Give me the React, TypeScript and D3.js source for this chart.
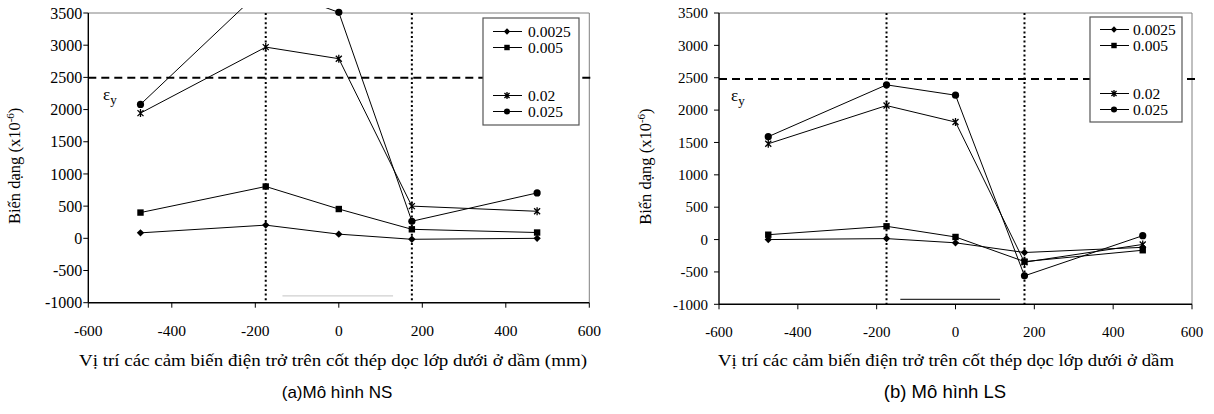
import React from "react";
import * as d3 from "d3";

// sensor positions along the beam (mm)
const positions = [-475, -175, 0, 175, 475];
const seriesLabels = ["0.0025", "0.005", "0.02", "0.025"];
const markerKinds = ["diamond", "square", "asterisk", "circle"];
const legendRows = [0, 1, 4, 5]; // rows 2,3 are empty in the original legend
const xTicks = [-600, -400, -200, 0, 200, 400, 600];
const yTicks = [-1000, -500, 0, 500, 1000, 1500, 2000, 2500, 3000, 3500];
const columnFaces = [-175, 175];

// (a) NS model
const ns0025 = [85, 205, 65, -15, 0];
const ns005 = [400, 805, 455, 140, 90];
const ns02 = [1945, 2970, 2790, 500, 420];
const ns025 = [2080, 3920, 3510, 265, 705];
const nsYield = 2495;

// (b) LS model
const ls0025 = [0, 15, -50, -200, -120];
const ls005 = [75, 205, 40, -340, -165];
const ls02 = [1480, 2070, 1815, -350, -75];
const ls025 = [1590, 2390, 2230, -560, 60];
const lsYield = 2480;

const serif = "Liberation Serif, serif";
const sans = "Liberation Sans, sans-serif";

function Marker({ kind, x, y, s = 1 }) {
  if (kind === "diamond") {
    return <rect x={-2.6 * s} y={-2.6 * s} width={5.2 * s} height={5.2 * s} fill="#000"
      transform={`translate(${x},${y}) rotate(45)`} />;
  }
  if (kind === "square") {
    return <rect x={x - 3.2 * s} y={y - 3.2 * s} width={6.4 * s} height={6.4 * s} fill="#000" />;
  }
  if (kind === "asterisk") {
    const r = 4 * s, d = 3 * s;
    return <path d={`M${x},${y - r}V${y + r}M${x - d},${y - d}L${x + d},${y + d}M${x - d},${y + d}L${x + d},${y - d}`}
      stroke="#000" strokeWidth={1.3} fill="none" />;
  }
  return <circle cx={x} cy={y} r={3.6 * s} fill="#000" />;
}

function Panel({ id, series, yieldValue, box, tickFont, yLabelGap, legend, xTitle, xTitleX, xTitleLen, yTitleX, eps, caption, captionX, captionSize, stray }) {
  const x = d3.scaleLinear().domain([-600, 600]).range([box.left, box.right]);
  const y = d3.scaleLinear().domain([-1000, 3500]).range([box.bottom, box.top]);
  const line = d3.line<number>().x((_, i) => x(positions[i])).y(d => y(d));

  return (
    <g>
      <defs>
        <clipPath id={`clip-${id}`}>
          <rect x={box.left - 10} y={box.top - 5} width={box.right - box.left + 20} height={box.bottom - box.top + 10} />
        </clipPath>
      </defs>

      {/* frame */}
      <line x1={box.left} x2={box.right} y1={box.top} y2={box.top} stroke="#808080" />
      <line x1={box.right} x2={box.right} y1={box.top} y2={box.bottom} stroke="#808080" />

      {/* stray line below the plot in the source figure */}
      <line x1={x(stray.from)} x2={x(stray.to)} y1={y(stray.at)} y2={y(stray.at)} stroke={stray.color} strokeWidth={1.2} />

      {/* column faces */}
      {columnFaces.map(v => (
        <line key={v} x1={x(v)} x2={x(v)} y1={box.top} y2={box.bottom} stroke="#000" strokeWidth={2} strokeDasharray="2,2.6" />
      ))}
      {/* yield strain */}
      <line x1={box.left} x2={box.right + 3} y1={y(yieldValue)} y2={y(yieldValue)} stroke="#000" strokeWidth={2} strokeDasharray="8,5" />
      <text x={eps.x} y={y(yieldValue) + 22} fontFamily={serif} fontSize={17}>
        ε<tspan dy={4} fontSize={13}>y</tspan>
      </text>

      {/* series */}
      <g clipPath={`url(#clip-${id})`}>
        {series.map((s, k) => (
          <path key={k} d={line(s) || ""} fill="none" stroke="#000" strokeWidth={1} />
        ))}
        {series.map((s, k) =>
          s.map((v, i) => <Marker key={`${k}-${i}`} kind={markerKinds[k]} x={x(positions[i])} y={y(v)} />)
        )}
      </g>

      {/* axes */}
      <line x1={box.left} x2={box.left} y1={box.top} y2={box.bottom} stroke="#000" strokeWidth={1.4} />
      <line x1={box.left} x2={box.right} y1={box.bottom} y2={box.bottom} stroke="#000" strokeWidth={1.4} />
      {yTicks.map(t => (
        <g key={t}>
          <line x1={box.left - 5} x2={box.left} y1={y(t)} y2={y(t)} stroke="#000" />
          <text x={box.left - yLabelGap} y={y(t)} dy="0.35em" textAnchor="end" fontFamily={serif} fontSize={tickFont.y}>{t}</text>
        </g>
      ))}
      {xTicks.map(t => (
        <g key={t}>
          <line x1={x(t)} x2={x(t)} y1={box.bottom} y2={box.bottom + 5} stroke="#000" />
          <text x={x(t)} y={box.bottom + 33} textAnchor="middle" fontFamily={serif} fontSize={tickFont.x}>{t}</text>
        </g>
      ))}

      {/* axis titles */}
      <text transform={`translate(${yTitleX},${(box.top + box.bottom) / 2 + 8}) rotate(-90)`} textAnchor="middle"
        fontFamily={serif} fontSize={16.5}>
        Biến dạng (x10<tspan dy={-6} fontSize={11}>-6</tspan><tspan dy={6}>)</tspan>
      </text>
      <text x={xTitleX} y={366} textAnchor="middle" fontFamily={serif} fontSize={16}
        textLength={xTitleLen} lengthAdjust="spacingAndGlyphs">{xTitle}</text>
      <text x={captionX} y={398} textAnchor="middle" fontFamily={sans} fontSize={captionSize}>{caption}</text>

      {/* legend */}
      <rect x={legend.x} y={legend.y} width={legend.w} height={legend.h} fill="#fff" stroke="#555" strokeWidth={1.2} />
      {seriesLabels.map((lab, k) => {
        const ly = legend.y + legend.firstRow + legendRows[k] * 16;
        return (
          <g key={lab}>
            <line x1={legend.x + 10} x2={legend.x + 39} y1={ly} y2={ly} stroke="#000" />
            <Marker kind={markerKinds[k]} x={legend.x + 24} y={ly} s={0.85} />
            <text x={legend.x + legend.textDx} y={ly} dy="0.35em" fontFamily={serif} fontSize={15.5}>{lab}</text>
          </g>
        );
      })}
    </g>
  );
}

export default function App() {
  return (
    <svg width={1214} height={414} style={{ position: "absolute", left: 0, top: 0, background: "#fff" }}>
      <rect width={1214} height={414} fill="#fff" />
      <Panel
        id="ns"
        series={[ns0025, ns005, ns02, ns025]}
        yieldValue={nsYield}
        box={{ left: 88.3, right: 589.3, top: 13, bottom: 302.7 }}
        tickFont={{ x: 15.5, y: 16 }}
        yLabelGap={6}
        legend={{ x: 483, y: 18, w: 96, h: 107, firstRow: 13.5, textDx: 45 }}
        xTitle="Vị trí các cảm biến điện trở trên cốt thép dọc lớp dưới ở dầm (mm)"
        xTitleX={333}
        xTitleLen={508}
        yTitleX={20}
        eps={{ x: 103 }}
        caption="(a)Mô hình NS"
        captionX={337}
        captionSize={17}
        stray={{ from: -135, to: 130, at: -895, color: "#cfcfcf" }}
      />
      <Panel
        id="ls"
        series={[ls0025, ls005, ls02, ls025]}
        yieldValue={lsYield}
        box={{ left: 719, right: 1192, top: 13, bottom: 304.3 }}
        tickFont={{ x: 15, y: 15 }}
        yLabelGap={11}
        legend={{ x: 1090, y: 17, w: 92, h: 105, firstRow: 12.5, textDx: 43 }}
        xTitle="Vị trí các cảm biến điện trở trên cốt thép dọc lớp dưới ở dầm"
        xTitleX={946}
        xTitleLen={456}
        yTitleX={651}
        eps={{ x: 731 }}
        caption="(b) Mô hình LS"
        captionX={945}
        captionSize={18.5}
        stray={{ from: -140, to: 113, at: -925, color: "#333" }}
      />
    </svg>
  );
}
